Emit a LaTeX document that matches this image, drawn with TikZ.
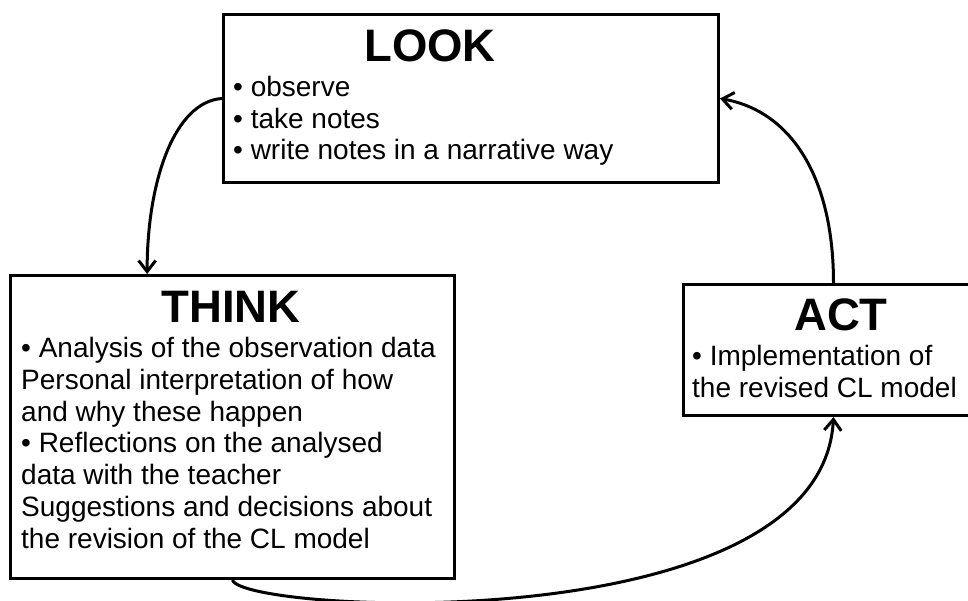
\documentclass[tikz,border=0pt]{standalone}
\usepackage{fontspec}
\setmainfont{Liberation Sans}
\usetikzlibrary{arrows.meta,calc}
\begin{document}
\begin{tikzpicture}[x=1pt,y=-1pt,
  box/.style={draw,line width=3pt,inner sep=0pt,anchor=north west},
  heading/.style={font=\fontsize{45.5}{50}\selectfont\bfseries,anchor=base,inner sep=0pt},
  body/.style={font=\fontsize{28}{31.7}\selectfont,align=left,anchor=base west,inner sep=0pt},
  flow/.style={line width=3pt,-{Straight Barb[length=11pt,width=17pt]}}]
\useasboundingbox (0,0) rectangle (968,601);

% the three boxes of the cycle
\node[box,minimum width=495pt,minimum height=168pt] (look) at (222,13) {};
\node[box,minimum width=444pt,minimum height=303pt] (think) at (9,274) {};
\node[box,minimum width=300pt,minimum height=131pt] (act) at (682,283) {};

% headings and contents (body nodes sit on the baseline of their last line)
\node[heading] (looktitle) at (430,62) {LOOK};
\node[body] (looktext) at (233,160) {• observe\\• take notes\\• write notes in a narrative way};

\node[heading] (thinktitle) at (231,322) {THINK};
\node[body] (thinktext) at (21,548) {• Analysis of the observation data\\Personal interpretation of how\\and why these happen\\• Reflections on the analysed\\data with the teacher\\Suggestions and decisions about\\the revision of the CL model};

\node[heading] (acttitle) at (841,330) {ACT};
\node[body] (acttext) at (692,397) {• Implementation of\\the revised CL model};

% cycle arrows
\coordinate (thinkin) at ($(think.north west)!0.309!(think.north east)$);
\draw[flow] (look.west) .. controls +(-47,3) and +(0,-94) .. (thinkin);
\draw[flow] (think.south) .. controls +(9,33) and +(-12,226) .. (act.south);
\draw[flow] (act.north) .. controls +(0,-103) and +(73,13) .. (look.east);
\end{tikzpicture}
\end{document}
